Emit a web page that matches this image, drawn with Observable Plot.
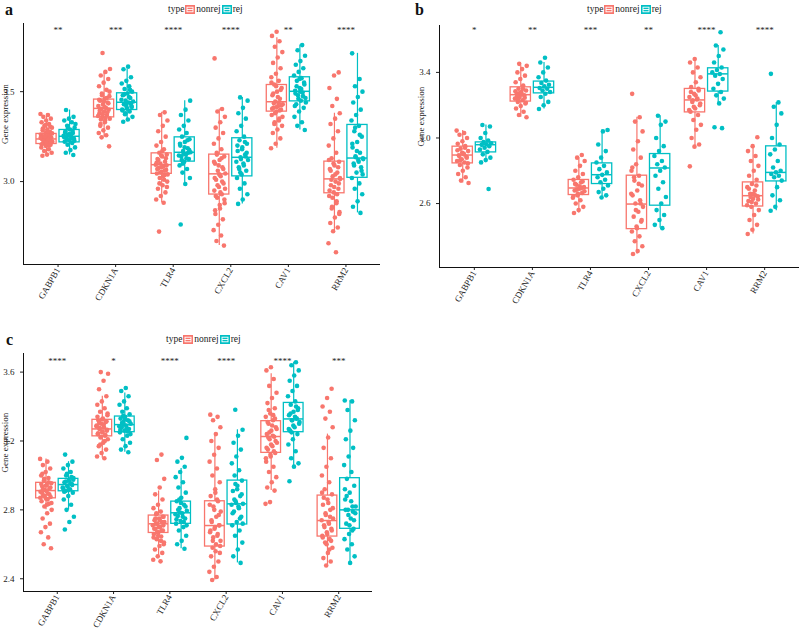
<!DOCTYPE html>
<html><head><meta charset="utf-8">
<script src="https://cdn.jsdelivr.net/npm/d3@7"></script>
<script src="https://cdn.jsdelivr.net/npm/@observablehq/plot@0.6"></script>
<style>
body{margin:0;background:#fff;width:800px;height:629px;overflow:hidden;position:relative;font-family:"Liberation Serif",serif;color:#222;}
.panel{position:absolute;width:400px;}
.head{position:relative;height:16px;}
.letter{position:absolute;font-weight:bold;font-size:16px;line-height:16px;color:#111;}
.legend{position:absolute;font-size:9.5px;line-height:10px;display:flex;align-items:center;white-space:nowrap;}
.legend svg{display:inline-block;margin:0 1px;}
</style></head><body>
<script>
// ---------- data ----------
const genes = ["GABPB1","CDKN1A","TLR4","CXCL2","CAV1","RRM2"];
const groups = ["nonrej","rej"];
const colors = ["#F8766D","#00BFC4"];

const sigA = ["**","***","****","****","**","****"];
const sigB = ["*","**","***","**","****","****"];
const sigC = ["****","*","****","****","****","***"];

const ticksA = [3.0, 3.5];
const ticksB = [2.6, 3.0, 3.4];
const ticksC = [2.4, 2.8, 3.2, 3.6];

// box stats per gene: [lower whisker, q1, median, q3, upper whisker]
const boxA_nonrej = [[3.144,3.209,3.237,3.265,3.376],[3.246,3.357,3.407,3.456,3.61],[2.882,3.043,3.094,3.157,3.385],[2.644,2.928,3.043,3.15,3.404],[3.185,3.389,3.444,3.537,3.80],[2.724,2.935,3.015,3.111,3.38]];
const boxA_rej    = [[3.148,3.218,3.252,3.287,3.398],[3.333,3.398,3.441,3.491,3.625],[2.987,3.111,3.163,3.246,3.45],[2.876,3.029,3.135,3.241,3.468],[3.287,3.446,3.502,3.58,3.759],[2.826,3.021,3.131,3.315,3.713]];
const boxB_nonrej = [[2.725,2.845,2.896,2.947,3.045],[3.126,3.222,3.264,3.309,3.44],[2.542,2.652,2.695,2.744,2.88],[2.292,2.444,2.597,2.77,3.126],[2.947,3.156,3.232,3.299,3.482],[2.414,2.582,2.648,2.729,2.95]];
const boxB_rej    = [[2.851,2.912,2.959,2.973,3.079],[3.177,3.272,3.309,3.344,3.46],[2.637,2.719,2.776,2.845,3.049],[2.45,2.587,2.817,2.902,3.136],[3.211,3.283,3.391,3.425,3.564],[2.556,2.735,2.79,2.949,3.217]];
const boxC_nonrej = [[2.80,2.867,2.912,2.957,3.096],[3.10,3.227,3.27,3.323,3.46],[2.53,2.666,2.719,2.767,2.91],[2.393,2.587,2.709,2.85,3.24],[2.912,3.131,3.226,3.315,3.59],[2.477,2.645,2.738,2.883,3.24]];
const boxC_rej    = [[2.80,2.908,2.947,2.98,3.08],[3.135,3.251,3.295,3.342,3.478],[2.574,2.719,2.783,2.848,3.04],[2.492,2.715,2.835,2.97,3.265],[3.051,3.251,3.328,3.421,3.657],[2.492,2.69,2.8,2.984,3.435]];

// observed points (per gene): spread of each group
const ptsA_nonrej = [
 [3.376,3.37,3.36,3.35,3.34,3.33,3.32,3.31,3.30,3.29,3.285,3.275,3.27,3.262,3.255,3.25,3.245,3.24,3.237,3.232,3.228,3.222,3.218,3.212,3.205,3.198,3.19,3.18,3.17,3.16,3.15,3.144],
 [3.715,3.626,3.61,3.59,3.57,3.55,3.53,3.51,3.49,3.475,3.46,3.45,3.44,3.43,3.42,3.41,3.405,3.40,3.39,3.38,3.37,3.36,3.35,3.34,3.32,3.30,3.285,3.27,3.258,3.246,3.196],
 [3.385,3.37,3.34,3.31,3.28,3.25,3.22,3.20,3.18,3.16,3.15,3.14,3.125,3.11,3.10,3.094,3.085,3.075,3.065,3.055,3.045,3.035,3.02,3.00,2.98,2.96,2.94,2.92,2.90,2.882,2.722],
 [3.685,3.404,3.39,3.36,3.33,3.30,3.27,3.24,3.21,3.18,3.16,3.14,3.12,3.10,3.08,3.06,3.045,3.03,3.01,2.99,2.97,2.95,2.93,2.91,2.88,2.85,2.82,2.79,2.76,2.73,2.70,2.67,2.644],
 [3.833,3.81,3.78,3.75,3.72,3.69,3.66,3.63,3.60,3.58,3.56,3.54,3.52,3.50,3.48,3.46,3.445,3.43,3.42,3.41,3.40,3.39,3.37,3.35,3.33,3.31,3.29,3.27,3.24,3.21,3.185],
 [3.607,3.59,3.52,3.46,3.42,3.38,3.35,3.32,3.28,3.24,3.20,3.16,3.13,3.11,3.09,3.07,3.05,3.03,3.015,3.00,2.98,2.96,2.94,2.92,2.89,2.86,2.83,2.80,2.77,2.745,2.724,2.657,2.607]
];
const ptsA_rej = [
 [3.398,3.36,3.35,3.34,3.33,3.31,3.30,3.29,3.28,3.27,3.262,3.255,3.25,3.245,3.238,3.23,3.222,3.215,3.205,3.19,3.175,3.16,3.148],
 [3.639,3.625,3.58,3.56,3.545,3.53,3.515,3.50,3.49,3.48,3.465,3.45,3.445,3.44,3.43,3.42,3.41,3.40,3.39,3.375,3.36,3.345,3.333],
 [3.45,3.40,3.37,3.34,3.31,3.29,3.27,3.25,3.235,3.22,3.20,3.185,3.17,3.163,3.15,3.14,3.125,3.11,3.09,3.07,3.05,3.02,2.987,2.761],
 [3.468,3.45,3.41,3.38,3.35,3.31,3.28,3.25,3.23,3.21,3.19,3.17,3.15,3.135,3.12,3.10,3.08,3.06,3.04,3.02,2.99,2.96,2.93,2.90,2.876],
 [3.759,3.73,3.70,3.67,3.65,3.63,3.61,3.59,3.575,3.56,3.54,3.52,3.505,3.495,3.48,3.465,3.45,3.43,3.41,3.39,3.36,3.33,3.31,3.287],
 [3.713,3.57,3.53,3.50,3.47,3.44,3.40,3.37,3.34,3.31,3.28,3.25,3.22,3.19,3.16,3.14,3.13,3.12,3.10,3.08,3.05,3.02,2.99,2.96,2.93,2.89,2.86,2.826]
];
// dense centre of each group
const coreA_nonrej = [
 [3.26,3.248,3.243,3.234,3.226,3.22,3.215,3.208,3.20,3.252,3.268,3.28,3.295,3.305,3.315],
 [3.415,3.395,3.385,3.375,3.365,3.355,3.345,3.435,3.445,3.455,3.465,3.48,3.50,3.33,3.31],
 [3.09,3.08,3.07,3.06,3.05,3.04,3.03,3.12,3.13,3.145,3.105,3.01,2.99,2.97,3.17],
 [3.04,3.02,3.00,2.98,2.96,2.94,2.92,3.07,3.09,3.11,3.13,3.15,2.90,2.87,2.84],
 [3.44,3.435,3.425,3.415,3.405,3.395,3.38,3.36,3.47,3.49,3.51,3.53,3.55,3.34,3.32],
 [3.01,2.99,2.97,2.95,2.93,2.91,3.02,3.04,3.06,3.08,3.10,3.12,2.88,2.85,2.82]
];
const coreA_rej = [
 [3.258,3.248,3.242,3.235,3.227,3.265,3.272,3.282,3.295,3.32],
 [3.435,3.425,3.455,3.47,3.485,3.415,3.405,3.395,3.51,3.38],
 [3.16,3.155,3.145,3.13,3.12,3.175,3.19,3.21,3.23,3.10],
 [3.14,3.125,3.11,3.09,3.07,3.16,3.18,3.20,3.22,3.05],
 [3.50,3.49,3.475,3.46,3.44,3.515,3.53,3.55,3.57,3.42],
 [3.135,3.125,3.11,3.09,3.06,3.17,3.21,3.26,3.30,3.04]
];
const ptsB_nonrej = [
 [3.045,3.03,3.02,3.00,2.98,2.965,2.95,2.935,2.92,2.905,2.895,2.885,2.87,2.86,2.85,2.835,2.82,2.80,2.78,2.76,2.74,2.725],
 [3.452,3.44,3.42,3.40,3.38,3.36,3.34,3.32,3.30,3.29,3.28,3.27,3.26,3.25,3.24,3.23,3.22,3.21,3.195,3.18,3.16,3.14,3.126],
 [2.896,2.88,2.86,2.83,2.80,2.78,2.76,2.745,2.73,2.715,2.70,2.69,2.68,2.665,2.65,2.635,2.62,2.60,2.58,2.56,2.542],
 [3.269,3.126,3.10,3.04,2.98,2.93,2.88,2.84,2.80,2.77,2.74,2.71,2.68,2.65,2.62,2.60,2.58,2.55,2.52,2.49,2.46,2.43,2.40,2.37,2.34,2.31,2.292],
 [3.482,3.46,3.43,3.40,3.37,3.34,3.31,3.29,3.27,3.25,3.235,3.22,3.20,3.18,3.16,3.14,3.11,3.08,3.05,3.00,2.96,2.947,2.827],
 [3.004,2.95,2.92,2.89,2.86,2.83,2.80,2.77,2.745,2.72,2.70,2.68,2.66,2.645,2.63,2.615,2.60,2.58,2.56,2.53,2.50,2.47,2.44,2.414]
];
const ptsB_rej = [
 [3.079,3.07,3.03,3.00,2.985,2.975,2.968,2.962,2.958,2.95,2.94,2.93,2.915,2.90,2.88,2.865,2.851,2.689],
 [3.489,3.46,3.43,3.40,3.37,3.35,3.335,3.325,3.315,3.305,3.30,3.29,3.28,3.27,3.25,3.22,3.20,3.177],
 [3.049,3.04,2.96,2.92,2.88,2.85,2.83,2.81,2.79,2.775,2.76,2.745,2.73,2.71,2.69,2.67,2.65,2.637],
 [3.136,3.10,3.08,3.00,2.95,2.92,2.89,2.86,2.84,2.82,2.80,2.77,2.73,2.69,2.64,2.60,2.56,2.53,2.50,2.47,2.45],
 [3.645,3.564,3.54,3.50,3.46,3.43,3.415,3.40,3.39,3.38,3.36,3.33,3.30,3.28,3.26,3.24,3.211,3.065,3.06],
 [3.391,3.217,3.19,3.15,3.08,3.00,2.96,2.93,2.90,2.86,2.82,2.80,2.79,2.78,2.77,2.76,2.74,2.70,2.65,2.62,2.58,2.556]
];
const coreB_nonrej = [
 [2.90,2.89,2.88,2.91,2.925,2.94,2.865,2.845],
 [3.265,3.255,3.245,3.275,3.285,3.30,3.235,3.215],
 [2.695,2.685,2.675,2.705,2.72,2.735,2.66,2.645],
 [2.60,2.56,2.66,2.72,2.76,2.50,2.45,2.82],
 [3.24,3.23,3.21,3.26,3.28,3.30,3.19,3.17],
 [2.65,2.64,2.625,2.66,2.69,2.71,2.61,2.59]
];
const coreB_rej = [[],[],[],[],[],[]];
const ptsC_nonrej = [
 [3.096,3.08,3.06,3.04,3.02,3.00,2.985,2.97,2.955,2.945,2.935,2.925,2.915,2.905,2.895,2.885,2.875,2.865,2.85,2.835,2.82,2.80,2.78,2.75,2.72,2.70,2.67,2.64,2.60,2.577],
 [3.60,3.59,3.55,3.50,3.46,3.43,3.41,3.39,3.37,3.35,3.33,3.32,3.31,3.30,3.29,3.28,3.27,3.26,3.25,3.24,3.23,3.22,3.21,3.19,3.17,3.15,3.13,3.11,3.10],
 [3.121,3.09,2.98,2.93,2.89,2.86,2.83,2.81,2.79,2.775,2.76,2.75,2.74,2.73,2.72,2.71,2.70,2.69,2.68,2.67,2.66,2.645,2.63,2.61,2.59,2.57,2.55,2.53,2.51,2.501],
 [3.353,3.34,3.32,3.28,3.24,3.20,3.16,3.12,3.08,3.04,3.00,2.96,2.92,2.88,2.85,2.82,2.79,2.76,2.73,2.71,2.69,2.67,2.65,2.62,2.59,2.56,2.53,2.50,2.47,2.44,2.41,2.393],
 [3.628,3.61,3.56,3.52,3.48,3.45,3.42,3.39,3.36,3.34,3.32,3.30,3.28,3.26,3.24,3.225,3.21,3.19,3.17,3.15,3.13,3.11,3.08,3.05,3.02,2.99,2.96,2.93,2.912,2.845,2.835],
 [3.503,3.45,3.40,3.37,3.33,3.28,3.22,3.16,3.10,3.05,3.00,2.96,2.92,2.89,2.86,2.83,2.80,2.77,2.75,2.73,2.71,2.69,2.67,2.65,2.63,2.61,2.58,2.55,2.52,2.50,2.477]
];
const ptsC_rej = [
 [3.121,3.08,3.06,3.04,3.02,3.00,2.985,2.97,2.96,2.95,2.94,2.93,2.92,2.91,2.90,2.88,2.86,2.83,2.80,2.76,2.73,2.686],
 [3.508,3.49,3.46,3.43,3.41,3.39,3.37,3.355,3.34,3.33,3.32,3.31,3.30,3.29,3.28,3.27,3.26,3.25,3.23,3.21,3.19,3.17,3.15,3.135],
 [3.218,3.102,3.08,3.05,3.02,2.99,2.96,2.93,2.90,2.87,2.85,2.83,2.81,2.795,2.78,2.765,2.75,2.735,2.72,2.70,2.68,2.65,2.62,2.60,2.574],
 [3.381,3.265,3.23,3.19,3.15,3.11,3.07,3.03,3.00,2.97,2.94,2.91,2.88,2.85,2.835,2.82,2.79,2.76,2.73,2.71,2.68,2.65,2.61,2.57,2.53,2.492],
 [3.657,3.64,3.61,3.58,3.55,3.52,3.49,3.46,3.43,3.41,3.39,3.37,3.35,3.33,3.32,3.30,3.28,3.26,3.24,3.21,3.18,3.14,3.10,3.07,3.051,2.966],
 [3.435,3.43,3.38,3.32,3.26,3.21,3.16,3.11,3.06,3.02,2.98,2.94,2.90,2.86,2.82,2.80,2.78,2.75,2.72,2.69,2.66,2.63,2.60,2.57,2.53,2.492]
];
const coreC_nonrej = [
 [2.91,2.90,2.89,2.88,2.87,2.86,2.92,2.93,2.94,2.95,2.96,2.98,2.84,2.83,3.01],
 [3.275,3.265,3.255,3.245,3.235,3.225,3.285,3.295,3.305,3.315,3.325,3.34,3.20,3.18,3.36],
 [2.72,2.71,2.70,2.69,2.68,2.67,2.73,2.74,2.75,2.76,2.65,2.64,2.62,2.78,2.60],
 [2.71,2.70,2.68,2.66,2.64,2.62,2.60,2.74,2.77,2.80,2.83,2.86,2.58,2.55,2.90],
 [3.23,3.22,3.20,3.18,3.16,3.14,3.25,3.27,3.29,3.31,3.33,3.12,3.10,3.35,3.38],
 [2.74,2.72,2.70,2.68,2.66,2.64,2.76,2.78,2.81,2.84,2.87,2.62,2.60,2.90,2.57]
];
const coreC_rej = [
 [2.945,2.935,2.925,2.955,2.965,2.975,2.915,2.905,2.99,3.01],
 [3.295,3.285,3.275,3.305,3.315,3.325,3.265,3.255,3.345,3.24],
 [2.785,2.775,2.76,2.80,2.82,2.84,2.745,2.73,2.86,2.71],
 [2.84,2.83,2.81,2.86,2.89,2.92,2.78,2.75,2.95,2.72],
 [3.33,3.32,3.31,3.34,3.36,3.38,3.29,3.27,3.40,3.25],
 [2.80,2.79,2.77,2.82,2.85,2.88,2.74,2.71,2.92,2.68]
];

// ---------- layout ----------
function keySvg(c){
  return `<svg width="10" height="9" viewBox="0 0 10 9"><rect x="0.5" y="0.5" width="9" height="8" fill="${c}" stroke="${c}"/><rect x="2" y="2.2" width="6" height="4.6" fill="none" stroke="#fff" stroke-width="0.9"/><line x1="2" x2="8" y1="4.5" y2="4.5" stroke="#fff" stroke-width="0.9"/></svg>`;
}

function makePanel(cfg){
  const div = document.createElement("div");
  div.className = "panel";
  div.style.left = cfg.left + "px";
  div.style.top = cfg.top + "px";
  const head = document.createElement("div");
  head.className = "head";
  head.innerHTML = `<div class="letter" style="left:${cfg.letterX}px;top:${cfg.letterY}px">${cfg.letter}</div>` +
    `<div class="legend" style="left:${cfg.legendX}px;top:${cfg.legendY}px"><span>type</span>${keySvg(colors[0])}<span>nonrej</span>${keySvg(colors[1])}<span>rej</span></div>`;
  div.appendChild(head);

  const boxes = [], pts = [];
  groups.forEach((g, gi) => {
    const bs = cfg.box[gi];
    genes.forEach((gene, i) => {
      const cx = i + 1 + (gi === 0 ? -0.2 : 0.2);
      const [lo, q1, med, q3, hi] = bs[i];
      boxes.push({gene, group: g, cx, lo, q1, med, q3, hi});
      const vals = cfg.pts[gi][i].concat(cfg.core[gi][i]);
      vals.forEach((v, k) => {
        const j = ((k * 0.618034 + i * 0.37 + gi * 0.21) % 1) - 0.5;
        pts.push({gene, group: g, x: cx + j * 0.21, v});
      });
    });
  });
  const stars = genes.map((g, i) => ({i: i + 1, s: cfg.sig[i]}));

  const plot = Plot.plot({
    width: 400,
    height: cfg.height,
    marginTop: cfg.mt, marginBottom: cfg.mb, marginLeft: cfg.ml, marginRight: cfg.mr,
    style: {fontFamily: "Liberation Serif", fontSize: "9px", color: "#222", background: "white", overflow: "visible"},
    x: {domain: [0.4, 6.6], ticks: [1,2,3,4,5,6], tickFormat: d => genes[d - 1], tickRotate: -60, tickSize: 3, tickPadding: 1, label: null},
    y: {domain: cfg.ydom, ticks: cfg.yticks, tickFormat: ".1f", tickSize: 3, label: null},
    color: {domain: groups, range: colors},
    marks: [
      Plot.ruleX(boxes, {x: "cx", y1: "q3", y2: "hi", stroke: "group", strokeWidth: 1.2}),
      Plot.ruleX(boxes, {x: "cx", y1: "lo", y2: "q1", stroke: "group", strokeWidth: 1.2}),
      Plot.rect(boxes, {x1: d => d.cx - 0.175, x2: d => d.cx + 0.175, y1: "q1", y2: "q3", fill: "white", stroke: "group", strokeWidth: 1.3}),
      Plot.ruleY(boxes, {y: "med", x1: d => d.cx - 0.175, x2: d => d.cx + 0.175, stroke: "group", strokeWidth: 1.5}),
      Plot.dot(pts, {x: "x", y: "v", fill: "group", r: 2.3}),
      Plot.text(stars, {x: "i", y: () => cfg.starY, text: "s", fontSize: 9, fill: "#222"}),
      Plot.text([0], {frameAnchor: "left", text: () => "Gene expression", rotate: -90, dx: cfg.ylabDx, fontSize: 9, fill: "#222"}),
      Plot.ruleX([0.4], {stroke: "#111", strokeWidth: 1}),
      Plot.ruleY([cfg.ydom[0]], {stroke: "#111", strokeWidth: 1})
    ]
  });
  plot.style.display = "block";
  div.appendChild(plot);
  document.body.appendChild(div);
}

makePanel({letter: "a", left: 0, top: 0, letterX: 5, letterY: 2, legendX: 168, legendY: 4,
  height: 290, mt: 7, mb: 42, ml: 23, mr: 20, ydom: [2.539, 3.879], yticks: ticksA, starY: 3.844, ylabDx: -18,
  sig: sigA, box: [boxA_nonrej, boxA_rej], pts: [ptsA_nonrej, ptsA_rej], core: [coreA_nonrej, coreA_rej]});
makePanel({letter: "b", left: 400, top: 0, letterX: 15, letterY: 2, legendX: 187, legendY: 4,
  height: 290, mt: 9, mb: 39, ml: 39, mr: 1, ydom: [2.21, 3.686], yticks: ticksB, starY: 3.66, ylabDx: -18,
  sig: sigB, box: [boxB_nonrej, boxB_rej], pts: [ptsB_nonrej, ptsB_rej], core: [coreB_nonrej, coreB_rej]});
makePanel({letter: "c", left: 0, top: 332, letterX: 6, letterY: 0, legendX: 166, legendY: 2,
  height: 281, mt: 5, mb: 38, ml: 23, mr: 28, ydom: [2.326, 3.708], yticks: ticksC, starY: 3.663, ylabDx: -18,
  sig: sigC, box: [boxC_nonrej, boxC_rej], pts: [ptsC_nonrej, ptsC_rej], core: [coreC_nonrej, coreC_rej]});
</script>
</body></html>
